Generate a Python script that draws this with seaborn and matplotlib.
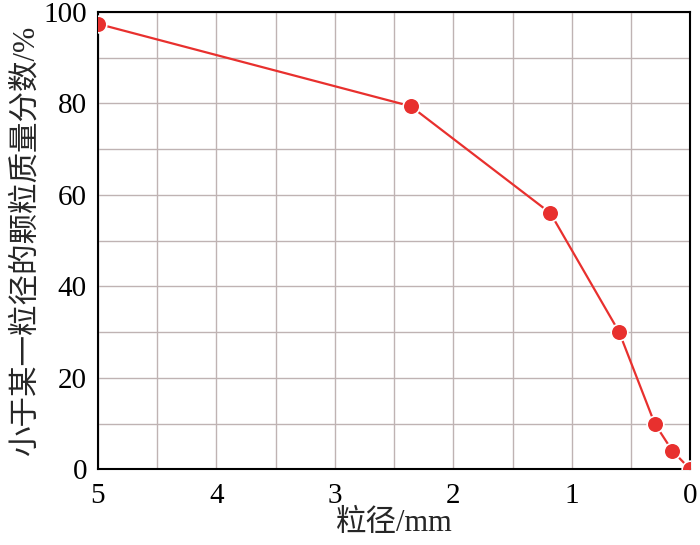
import matplotlib
matplotlib.use("Agg")
import matplotlib.pyplot as plt
import seaborn as sns
import pandas as pd
from matplotlib.ticker import MultipleLocator

# 粒径 (mm) and passing percentage
size_mm = [5, 2.36, 1.18, 0.6, 0.3, 0.15, 0]
passing = [97.4, 79.4, 56.0, 30.0, 10.0, 4.0, 0.0]

df = pd.DataFrame({"size": size_mm, "passing": passing})

sns.set_style("white")
plt.rcParams["font.family"] = ["Liberation Serif", "Noto Sans CJK SC", "DejaVu Sans"]

fig = plt.figure(figsize=(7, 5.45), dpi=100)
ax = fig.add_axes([0.14, 0.139, 0.846, 0.839])

sns.lineplot(data=df, x="size", y="passing", ax=ax, color="#e8302e", linewidth=1.6,
             marker="o", markersize=12, markeredgecolor="white", markeredgewidth=1.2,
             clip_on=True, zorder=3)

ax.set_xlim(5, 0)
ax.set_ylim(0, 100)
ax.xaxis.set_major_locator(MultipleLocator(1))
ax.xaxis.set_minor_locator(MultipleLocator(0.5))
ax.yaxis.set_major_locator(MultipleLocator(20))
ax.yaxis.set_minor_locator(MultipleLocator(10))
ax.grid(True, which="both", color="#bfb3b3", linewidth=1.0)
ax.tick_params(which="both", direction="in", length=5, width=1, colors="#222222",
               labelsize=21, labelcolor="black", pad=8)
ax.tick_params(axis="x", pad=10)
for s in ax.spines.values():
    s.set_color("black")
    s.set_linewidth(1.5)

ax.set_xlabel("粒径/mm", fontsize=22, labelpad=0)
ax.set_ylabel("小于某一粒径的颗粒质量分数/%", fontsize=22, labelpad=2)

fig.savefig("out.png", dpi=100)
